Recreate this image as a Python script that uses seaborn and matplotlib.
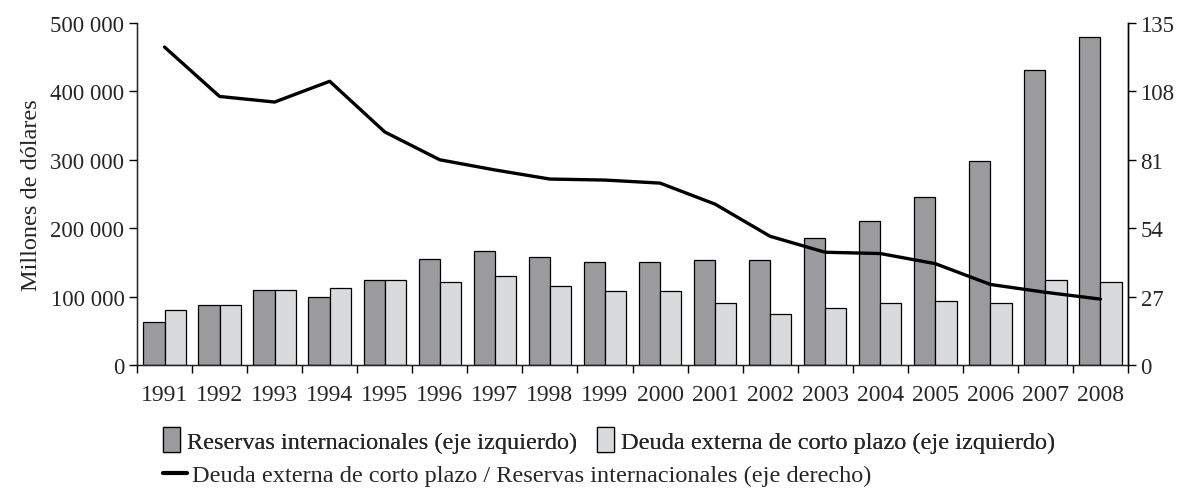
import numpy as np
import pandas as pd
import matplotlib
matplotlib.use('Agg')
import matplotlib.pyplot as plt
from matplotlib.patches import Patch
from matplotlib.lines import Line2D
from matplotlib.ticker import FuncFormatter, FixedLocator
import seaborn as sns

# datos
anios = [1991, 1992, 1993, 1994, 1995, 1996, 1997, 1998, 1999,
         2000, 2001, 2002, 2003, 2004, 2005, 2006, 2007, 2008]
reservas = [63000, 88000, 109000, 100000, 125000, 155000, 166000, 158000, 150000,
            150000, 154000, 154000, 186000, 211000, 245000, 298000, 431000, 480000]
deuda_cp = [80000, 88000, 109000, 113000, 125000, 122000, 130000, 116000, 108000,
            108000, 91000, 75000, 83000, 91000, 94000, 91000, 125000, 121000]
ratio = [125.5, 106.0, 103.8, 112.0, 92.0, 81.0, 77.0, 73.4, 73.0,
         71.8, 63.5, 50.8, 44.5, 44.0, 40.0, 31.8, 28.7, 26.0]

lbl_res = 'Reservas internacionales (eje izquierdo)'
lbl_deu = 'Deuda externa de corto plazo (eje izquierdo)'
lbl_rat = 'Deuda externa de corto plazo / Reservas internacionales (eje derecho)'

col_oscuro = '#9b9b9d'
col_claro = '#d9dadc'

df = pd.DataFrame({
    'anio': [str(a) for a in anios] * 2,
    'valor': reservas + deuda_cp,
    'serie': [lbl_res] * len(anios) + [lbl_deu] * len(anios),
})

sns.set_style('ticks')
plt.rcParams['font.family'] = ['Liberation Serif', 'DejaVu Serif']

fig = plt.figure(figsize=(11.81, 4.89), dpi=100)
ax = fig.add_axes([137 / 1181, 1 - 366 / 489, (1128 - 137) / 1181, (366 - 24) / 489])

sns.barplot(data=df, x='anio', y='valor', hue='serie', palette=[col_oscuro, col_claro],
            edgecolor='black', linewidth=0.9, width=0.77, saturation=1, ax=ax, legend=False)

ax.set_xlim(-0.5, len(anios) - 0.5)
ax.set_ylim(0, 500000)
ax.set_yticks(np.arange(0, 500001, 100000))
ax.yaxis.set_major_formatter(FuncFormatter(lambda v, p: f'{v:,.0f}'.replace(',', ' ')))
ax.set_xlabel('')
ax.set_ylabel('Millones de dólares', fontsize=17.5, labelpad=6)

# marcas del eje x entre categorias
ax.xaxis.set_minor_locator(FixedLocator(np.arange(-0.5, len(anios), 1.0)))
ax.tick_params(axis='x', which='major', length=0, labelsize=17, pad=14)
ax.tick_params(axis='x', which='minor', length=6, width=1, direction='out', color='black')
ax.tick_params(axis='y', length=6, width=1, direction='out', labelsize=16.5, pad=3, color='black')

for s in ['left', 'bottom', 'right']:
    ax.spines[s].set_color('black')
    ax.spines[s].set_linewidth(1)
ax.spines['top'].set_visible(False)

# eje derecho
ax2 = ax.twinx()
sns.lineplot(x=np.arange(len(anios)), y=ratio, ax=ax2, color='black', linewidth=2.4)
ax2.set_ylim(0, 135)
ax2.set_yticks([0, 27, 54, 81, 108, 135])
ax2.tick_params(axis='y', length=6, width=1, direction='out', labelsize=16.5, pad=3, color='black')
ax2.spines['top'].set_visible(False)
ax2.spines['right'].set_color('black')
ax2.spines['right'].set_linewidth(1)
ax2.set_xlim(-0.5, len(anios) - 0.5)

# leyenda
h1 = [Patch(facecolor=col_oscuro, edgecolor='black', linewidth=0.9),
      Patch(facecolor=col_claro, edgecolor='black', linewidth=0.9)]
leg1 = fig.legend(h1, [lbl_res, lbl_deu], loc='upper left', bbox_to_anchor=(163 / 1181, 1 - 428 / 489),
                  ncol=2, frameon=False, fontsize=17.5, handlelength=0.7, handleheight=1.2,
                  handletextpad=0.3, columnspacing=0.8, borderaxespad=0, borderpad=0)
h2 = [Line2D([0], [0], color='black', linewidth=3)]
leg2 = fig.legend(h2, [lbl_rat], loc='upper left', bbox_to_anchor=(163 / 1181, 1 - 465 / 489),
                  frameon=False, fontsize=17.5, handlelength=1.0, handletextpad=0.2,
                  borderaxespad=0, borderpad=0)
fig.add_artist(leg1)

fig.savefig('out.png', dpi=100)
